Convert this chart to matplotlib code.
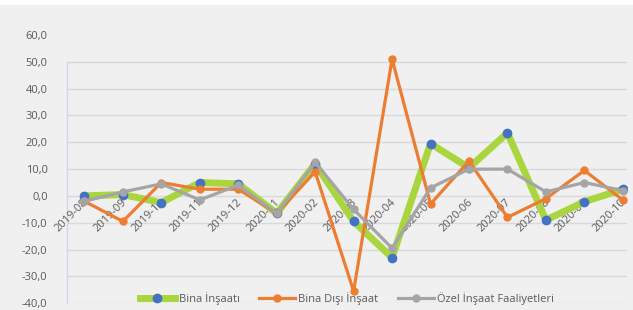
import matplotlib.pyplot as plt

months = ["2019-08", "2019-09", "2019-10", "2019-11", "2019-12", "2020-01", "2020-02",
          "2020-03", "2020-04", "2020-05", "2020-06", "2020-07", "2020-08", "2020-09", "2020-10"]
bina = [0.0, 0.5, -2.5, 5.0, 4.5, -6.5, 12.0, -9.5, -23.0, 19.5, 10.5, 23.5, -9.0, -2.2, 2.5]
bina_disi = [-2.0, -9.5, 5.0, 2.5, 2.5, -6.5, 9.0, -35.5, 51.0, -3.0, 13.0, -8.0, -1.0, 9.5, -1.5]
ozel = [-2.0, 1.5, 4.5, -1.5, 4.0, -6.5, 12.5, -5.0, -19.5, 3.0, 10.0, 10.0, 1.5, 5.0, 2.0]
yticks = [-40, -30, -20, -10, 0, 10, 20, 30, 40, 50, 60]

plt.rcParams['font.family'] = ['Open Sans', 'DejaVu Sans']
bg = "#f0f0f0"
fig = plt.figure(figsize=(6.33, 3.10), dpi=100, facecolor=bg)
# thin white strip at the top like the screenshot
fig.patches.append(plt.Rectangle((0, 0.985), 1, 0.015, transform=fig.transFigure,
                                 facecolor="white", edgecolor="none"))
ax = fig.add_axes([0.106, 0.022, 0.884, 0.865])
ax.set_facecolor(bg)

x = list(range(len(months)))
ax.set_xlim(-0.45, len(months) - 1 + 0.1)
ax.set_ylim(-40, 60)

# gridlines (the top one at 60 is not drawn)
for v in yticks[:-1]:
    ax.axhline(v, color="#d9d9d9", lw=1, zorder=0)
ax.plot([-0.45, -0.45], [-40, 50], color="#d0d8e6", lw=1, zorder=0, clip_on=False)

ax.plot(x, bina, color="#a9d63f", lw=5, marker="o", ms=6, mfc="#4472c4", mec="#4472c4",
        label="Bina İnşaatı", zorder=3)
ax.plot(x, bina_disi, color="#ed7d31", lw=2.3, marker="o", ms=5, label="Bina Dışı İnşaat", zorder=4)
ax.plot(x, ozel, color="#a5a5a5", lw=2.3, marker="o", ms=5, label="Özel İnşaat Faaliyetleri", zorder=5)

for s in ax.spines.values():
    s.set_visible(False)
ax.set_xticks([])
ax.set_yticks(yticks)
ax.set_yticklabels([f"{v:.1f}".replace(".", ",") for v in yticks], color="#595959", fontsize=8)
ax.tick_params(axis="y", length=0, pad=14)

for i, m in enumerate(months):
    ax.text(i + 0.15, -0.3, m, rotation=45, ha="right", va="top", fontsize=8, color="#595959", zorder=2)

ax.legend(loc="lower center", bbox_to_anchor=(0.5, -0.045), ncol=3, frameon=False, fontsize=8,
          labelcolor="#595959", handlelength=3.2, columnspacing=1.8, handletextpad=0.3)

fig.savefig("out.png", dpi=100, facecolor=bg)
